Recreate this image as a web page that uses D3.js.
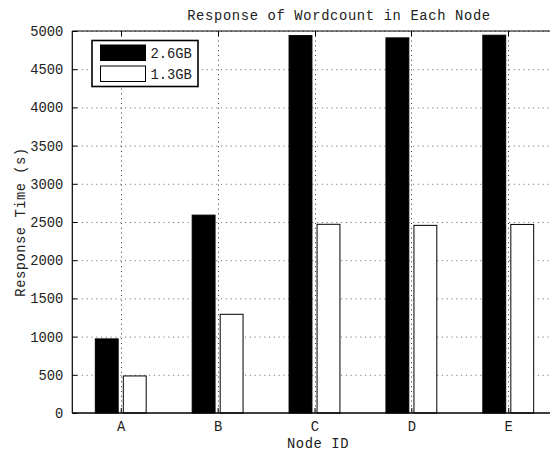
<!DOCTYPE html>
<html>
<head>
<meta charset="utf-8">
<script src="https://d3js.org/d3.v7.min.js"></script>
<style>
  html, body { margin: 0; padding: 0; background: #fff; }
  svg { display: block; overflow: hidden; }
  text { font-family: "Liberation Mono", "DejaVu Sans Mono", monospace; fill: #222; }
</style>
</head>
<body>
<svg id="chart" width="550" height="455"></svg>
<script>
// Response time per node for two input sizes
const nodes = ["A", "B", "C", "D", "E"];
const seriesNames = ["2.6GB", "1.3GB"];
const big = [970, 2590, 4940, 4910, 4945];
const small = [485, 1292, 2470, 2456, 2468];
const yTicks = [0, 500, 1000, 1500, 2000, 2500, 3000, 3500, 4000, 4500, 5000];

const svg = d3.select("#chart");
const plot = { left: 72.3, right: 556.7, top: 31, bottom: 413 };

const x = d3.scaleBand().domain(nodes).range([plot.left, plot.right]).padding(0);
const y = d3.scaleLinear().domain([0, 5000]).range([plot.bottom, plot.top]);
const bw = x.bandwidth();
const barW = bw * 0.236;
const off = bw * 0.1445;
const cx = d => x(d) + bw / 2;

// horizontal grid lines
svg.append("g").selectAll("line").data(yTicks.slice(1)).join("line")
  .attr("x1", plot.left).attr("x2", plot.right)
  .attr("y1", d => y(d) + 0.5).attr("y2", d => y(d) + 0.5)
  .attr("stroke", "#666").attr("stroke-width", 1).attr("stroke-dasharray", "1,3.8");

// bars
const series = [
  { name: seriesNames[0], values: big, fill: "#000", dx: -off },
  { name: seriesNames[1], values: small, fill: "#fff", dx: off }
];
series.forEach(s => {
  svg.append("g").selectAll("rect").data(nodes).join("rect")
    .attr("x", d => cx(d) + s.dx - barW / 2)
    .attr("y", (d, i) => y(s.values[i]))
    .attr("width", barW)
    .attr("height", (d, i) => plot.bottom - y(s.values[i]))
    .attr("fill", s.fill)
    .attr("stroke", "#000").attr("stroke-width", 1);
});

// vertical grid lines at node positions
svg.append("g").selectAll("line").data(nodes).join("line")
  .attr("x1", d => Math.round(cx(d)) + 0.5).attr("x2", d => Math.round(cx(d)) + 0.5)
  .attr("y1", plot.top).attr("y2", plot.bottom)
  .attr("stroke", "#333").attr("stroke-width", 1).attr("stroke-dasharray", "1,3.8");

// axes box
const axisG = svg.append("g");
axisG.append("line").attr("x1", plot.left).attr("x2", plot.left)
  .attr("y1", plot.top).attr("y2", plot.bottom).attr("stroke", "#000").attr("stroke-width", 1.2);
axisG.append("line").attr("x1", plot.left).attr("x2", plot.right)
  .attr("y1", plot.bottom).attr("y2", plot.bottom).attr("stroke", "#000").attr("stroke-width", 1.6);
axisG.append("line").attr("x1", plot.left).attr("x2", plot.right)
  .attr("y1", plot.top).attr("y2", plot.top).attr("stroke", "#000").attr("stroke-width", 1.2);

// y axis: inward ticks and labels
const yAxis = d3.axisLeft(y).tickValues(yTicks).tickSize(-5).tickPadding(9).tickFormat(d3.format("d"));
svg.append("g").attr("transform", `translate(${plot.left},0)`).call(yAxis)
  .call(g => g.select(".domain").remove())
  .call(g => g.selectAll("line").attr("stroke", "#000"))
  .call(g => g.selectAll("text").attr("font-family", "Liberation Mono").attr("font-size", 13.8).attr("fill", "#222"));

// x axis: inward ticks and labels
const xAxis = d3.axisBottom(d3.scalePoint().domain(nodes).range([cx(nodes[0]), cx(nodes[4])]))
  .tickSize(-5).tickPadding(8);
svg.append("g").attr("transform", `translate(0,${plot.bottom})`).call(xAxis)
  .call(g => g.select(".domain").remove())
  .call(g => g.selectAll("line").attr("stroke", "#000"))
  .call(g => g.selectAll("text").attr("font-family", "Liberation Mono").attr("font-size", 13.8).attr("fill", "#222"));

// top ticks
svg.append("g").selectAll("line").data(nodes).join("line")
  .attr("x1", d => Math.round(cx(d)) + 0.5).attr("x2", d => Math.round(cx(d)) + 0.5)
  .attr("y1", plot.top).attr("y2", plot.top + 5).attr("stroke", "#000");

// titles
svg.append("text").attr("x", 339).attr("y", 20).attr("text-anchor", "middle")
  .attr("font-size", 13.8).attr("letter-spacing", 0.65).text("Response of Wordcount in Each Node");
svg.append("text").attr("x", 318).attr("y", 448).attr("text-anchor", "middle")
  .attr("font-size", 13.8).attr("letter-spacing", 0.6).text("Node ID");
svg.append("text").attr("transform", `translate(25,${(plot.top + plot.bottom) / 2}) rotate(-90)`)
  .attr("text-anchor", "middle").attr("font-size", 13.8).attr("letter-spacing", 0.5).text("Response Time (s)");

// legend
const leg = svg.append("g");
leg.append("rect").attr("x", 92).attr("y", 40.5).attr("width", 106).attr("height", 46)
  .attr("fill", "#fff").attr("stroke", "#000").attr("stroke-width", 1.6);
series.forEach((s, i) => {
  const yy = 45 + i * 21;
  leg.append("rect").attr("x", 100.5).attr("y", yy).attr("width", 45).attr("height", 15.5)
    .attr("fill", s.fill).attr("stroke", "#000").attr("stroke-width", 1);
  leg.append("text").attr("x", 150.5).attr("y", yy + 13).attr("font-size", 13.8).text(s.name);
});
</script>
</body>
</html>
